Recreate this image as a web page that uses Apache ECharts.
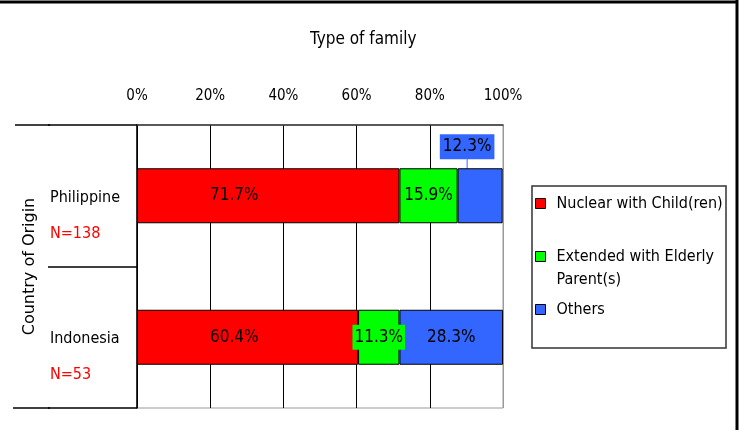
<!DOCTYPE html>
<html>
<head>
<meta charset="utf-8">
<script src="https://cdn.jsdelivr.net/npm/echarts@6/dist/echarts.min.js"></script>
<style>
  html, body { margin: 0; padding: 0; background: #fff; }
  #chart { width: 746px; height: 430px; }
</style>
</head>
<body>
<div id="chart"></div>
<script>
const countries = ['Philippine', 'Indonesia']
const sampleSizes = ['N=138', 'N=53']
const seriesNames = ['Nuclear with Child(ren)', 'Extended with Elderly Parent(s)', 'Others']
const nuclear = [71.7, 60.4]
const extended = [15.9, 11.3]
const others = [12.3, 28.3]
const xTicks = [0, 20, 40, 60, 80, 100]

const FONT = '"DejaVu Sans Condensed", "Liberation Sans Narrow", sans-serif'
const colors = ['#ff0000', '#00ff00', '#3366ff']

// grid edges in px
const G = { left: 137, right: 243, top: 125, bottom: 22 }
const W = 746, H = 430

const chart = echarts.init(document.getElementById('chart'))

function barSeries(name, values, color, label, extra) {
  return Object.assign({
    name: name,
    type: 'bar',
    stack: 'total',
    barWidth: 55,
    data: values,
    itemStyle: { color: color, borderColor: '#000', borderWidth: 1 },
    label: Object.assign({
      show: true,
      formatter: p => p.value.toFixed(1) + '%',
      color: '#000',
      fontFamily: FONT,
      fontSize: 17
    }, label)
  }, extra || {})
}

function legendAt(name, top, formatter) {
  return {
    data: [name],
    orient: 'vertical',
    left: 535,
    top: top,
    padding: 0,
    itemWidth: 10,
    itemHeight: 10,
    icon: 'rect',
    itemStyle: { borderColor: '#000', borderWidth: 1 },
    formatter: formatter,
    textStyle: { fontFamily: FONT, fontSize: 16, color: '#000', lineHeight: 23, padding: [0, 0, 0, 6] }
  }
}

const option = {
  animation: false,
  backgroundColor: '#fff',
  title: {
    text: 'Type of family',
    left: 310,
    top: 31,
    padding: 0,
    textStyle: { fontFamily: FONT, fontSize: 17, fontWeight: 'normal', color: '#000' }
  },
  legend: [
    legendAt(seriesNames[0], 192, null),
    // blank first line so the icon sits beside the first text line
    legendAt(seriesNames[1], 222, () => ' \nExtended with Elderly\nParent(s)'),
    legendAt(seriesNames[2], 298, null)
  ],
  grid: {
    left: G.left, right: G.right, top: G.top, bottom: G.bottom,
    show: true, borderColor: '#999', borderWidth: 1
  },
  xAxis: {
    type: 'value',
    position: 'top',
    min: xTicks[0],
    max: xTicks[xTicks.length - 1],
    interval: 20,
    axisLine: { show: true, lineStyle: { color: '#333', width: 1.5 } },
    axisTick: { show: false },
    axisLabel: {
      formatter: '{value}%',
      margin: 21,
      color: '#000',
      fontFamily: FONT,
      fontSize: 15
    },
    splitLine: {
      show: true,
      lineStyle: { color: ['#000', '#000', '#000', '#000', '#000', '#999'], width: 1 }
    }
  },
  yAxis: {
    type: 'category',
    inverse: true,
    data: countries,
    name: 'Country of Origin',
    nameLocation: 'middle',
    nameRotate: 90,
    nameGap: 99,
    nameTextStyle: { fontFamily: '"DejaVu Sans", sans-serif', fontSize: 16, color: '#000' },
    axisLine: { show: true, lineStyle: { color: '#000', width: 1.5 } },
    axisTick: { show: true, length: 89, lineStyle: { color: '#000', width: 1.5 } },
    axisLabel: {
      margin: 87,
      align: 'left',
      padding: [56, 0, 0, 0],
      formatter: (v, i) => '{a|' + v + '}\n{b|' + sampleSizes[i] + '}',
      rich: {
        a: { fontFamily: FONT, fontSize: 16, color: '#000', lineHeight: 20 },
        b: { fontFamily: FONT, fontSize: 16, color: '#ff0000', lineHeight: 52 }
      }
    }
  },
  series: [
    barSeries(seriesNames[0], nuclear, colors[0], { position: 'insideLeft', distance: 73 }),
    barSeries(seriesNames[1], extended, colors[1], {
      position: 'inside', backgroundColor: colors[1], padding: [4, 2]
    }),
    barSeries(seriesNames[2], others, colors[2], {
      position: 'inside', backgroundColor: colors[2], padding: [4, 3]
    }, {
      labelLayout: p => p.dataIndex === 0 ? {
        x: p.rect.x + p.rect.width / 2 - 13,
        y: p.rect.y - 9,
        align: 'center',
        verticalAlign: 'bottom'
      } : {},
      labelLine: { show: true, lineStyle: { color: colors[2], width: 1 } }
    })
  ],
  graphic: [
    // outer frame (top and right edge)
    { type: 'line', shape: { x1: 0, y1: 2, x2: 738, y2: 2 }, style: { stroke: '#000', lineWidth: 3 } },
    { type: 'line', shape: { x1: 737, y1: 0, x2: 737, y2: H }, style: { stroke: '#000', lineWidth: 3 } },
    // category bracket lines
    { type: 'line', shape: { x1: 15, y1: G.top, x2: 50, y2: G.top }, style: { stroke: '#000', lineWidth: 1.5 } },
    { type: 'line', shape: { x1: 13, y1: H - G.bottom, x2: 50, y2: H - G.bottom }, style: { stroke: '#000', lineWidth: 1.5 } },
    // legend box
    { type: 'rect', shape: { x: 532, y: 186, width: 194, height: 162 }, style: { fill: 'none', stroke: '#333', lineWidth: 1.5 } }
  ]
}

chart.setOption(option)
</script>
</body>
</html>
